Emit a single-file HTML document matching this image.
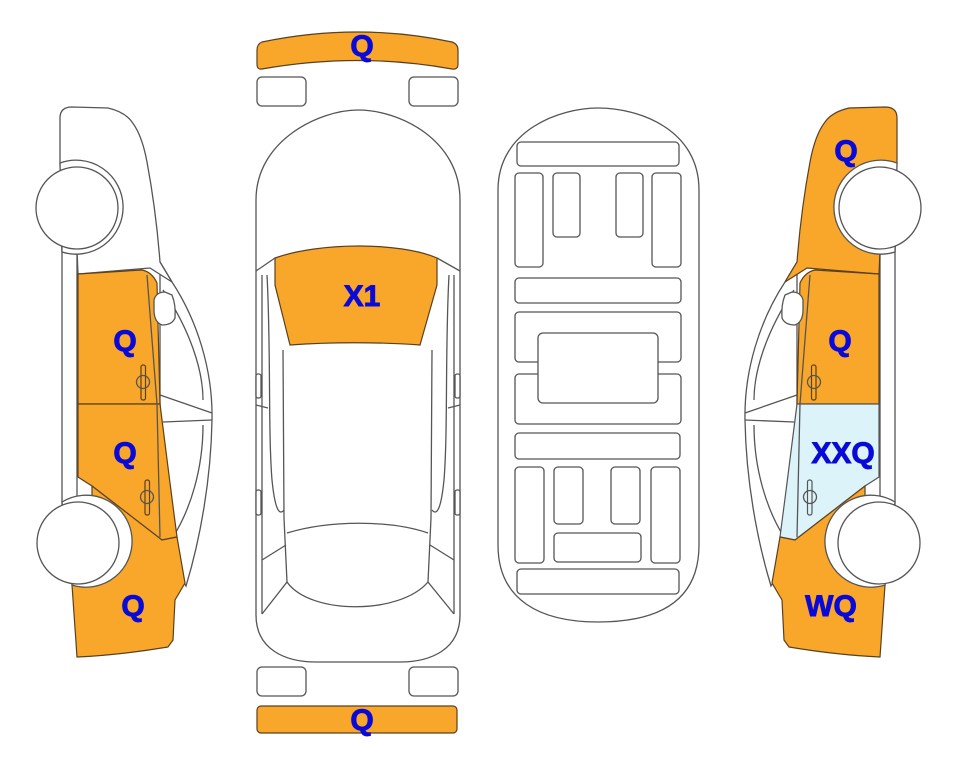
<!DOCTYPE html>
<html><head><meta charset="utf-8"><style>
html,body{margin:0;padding:0;background:#fff;}
svg{display:block;}
text{font-family:"Liberation Sans",Arial,sans-serif;font-weight:bold;font-size:30px;fill:#0a0ad8;stroke:#0a0ad8;stroke-width:0.9;text-anchor:middle;}
.s{stroke:#555;stroke-width:1.3;fill:none;}
.w{stroke:#555;stroke-width:1.3;fill:#fff;}
.o{stroke:#5a4020;stroke-width:1.2;fill:#F9A72B;}
.b{stroke:#555;stroke-width:1.2;fill:#DDF3FA;}
</style></head><body>
<svg width="963" height="768" viewBox="0 0 963 768" xmlns="http://www.w3.org/2000/svg">
<defs>
<g id="carbase">
  <path class="w" d="M160,262 L172,282 C197,320 213,370 212,420 C211,480 200,540 186,586 L160,540 L160,270 Z"/>
  <path class="s" d="M163,290 C190,330 203,370 203,400"/>
  <path class="s" d="M203,425 C203,470 190,510 173,537"/>
  <path class="s" d="M160,395 L212,413"/>
  <path class="s" d="M163,422 L212,420"/>
  <path class="w" d="M62,240 L77,240 L77,510 L62,510 Z"/>
</g>
</defs>

<!-- LEFT CAR -->
<g>
  <use href="#carbase"/>
  <path class="w" d="M60,163 L60,118 Q60,107 72,107 L108,108 Q125,112 132,122 Q142,135 147,162 Q156,210 160,262 L172,282 L150,268 L78,274 L77,250 L62,250 Z"/>
  <path class="o" d="M78,274 L142,270 Q152,272 157,283 L160,404 L78,404 Z"/>
  <path class="o" d="M78,404 L160,404 L170,483 L177,537 L162,540 L92,486 L78,477 Z"/>
  <path class="o" d="M92,486 L162,540 L177,537 L185,583 L175,600 L173,640 L168,647 Q120,655 77,657 L72,585 L72,500 L92,500 Z"/>
  <path class="s" d="M147,275 L157,404 L160,537"/>
  <path class="w" d="M154,300 Q156,292 165,292 L172,295 Q176,305 175,318 Q172,325 162,325 Q154,322 154,310 Z"/>
  <rect class="o" x="141" y="365" width="4.5" height="35" rx="2"/><circle class="s" cx="143" cy="382" r="6.5"/>
  <rect class="o" x="145" y="480" width="4.5" height="35" rx="2"/><circle class="s" cx="147" cy="497" r="6.5"/>
  <path class="w" d="M60,163 A47,47 0 1 1 62,252 Z"/>
  <circle class="w" cx="77" cy="208" r="41"/>
  <path class="w" d="M62,502 A46,46 0 1 1 72,585 Z"/>
  <circle class="w" cx="78" cy="543" r="41"/>
</g>
<text x="125" y="351">Q</text>
<text x="125" y="463">Q</text>
<text x="133" y="616">Q</text>

<!-- RIGHT CAR (mirrored) -->
<g transform="matrix(-1 0 0 1 957 0)">
  <use href="#carbase"/>
  <path class="o" d="M60,163 L60,118 Q60,107 72,107 L108,108 Q125,112 132,122 Q142,135 147,162 Q156,210 160,262 L172,282 L150,268 L78,274 L77,250 L62,250 Z"/>
  <path class="o" d="M78,274 L142,270 Q152,272 157,283 L160,404 L78,404 Z"/>
  <path class="b" d="M78,404 L160,404 L170,483 L177,537 L162,540 L92,486 L78,477 Z"/>
  <path class="o" d="M92,486 L162,540 L177,537 L185,583 L175,600 L173,640 L168,647 Q120,655 77,657 L72,585 L72,500 L92,500 Z"/>
  <path class="s" d="M147,275 L157,404 L160,537"/>
  <path class="w" d="M154,300 Q156,292 165,292 L172,295 Q176,305 175,318 Q172,325 162,325 Q154,322 154,310 Z"/>
  <rect class="o" x="141" y="365" width="4.5" height="35" rx="2"/><circle class="s" cx="143" cy="382" r="6.5"/>
  <rect class="b" x="145" y="480" width="4.5" height="35" rx="2"/><circle class="s" cx="147" cy="497" r="6.5"/>
  <path class="w" d="M60,163 A47,47 0 1 1 62,252 Z"/>
  <circle class="w" cx="77" cy="208" r="41"/>
  <path class="w" d="M62,502 A46,46 0 1 1 72,585 Z"/>
  <circle class="w" cx="78" cy="543" r="41"/>
</g>
<text x="846" y="161">Q</text>
<text x="840" y="351">Q</text>
<text x="843" y="463">XXQ</text>
<text x="831" y="616">WQ</text>

<!-- MIDDLE TOP VIEW -->
<path class="o" d="M262,42 Q358,22 452,42 Q458,44 458,50 L458,64 Q458,70 452,69 Q358,52 262,69 Q257,70 257,64 L257,50 Q257,44 262,42 Z"/>
<rect class="w" x="257" y="77" width="49" height="29" rx="5"/>
<rect class="w" x="409" y="77" width="49" height="29" rx="5"/>
<path class="w" d="M256,200 C256,140 320,110 358,110 C400,110 460,140 460,200 L460,615 C460,650 430,662 400,662 L316,662 C286,662 256,650 256,615 Z"/>
<path class="s" d="M256,271 L275,258 M460,271 L437,258"/>
<path class="s" d="M262,275 L262,614 M454,275 L454,614"/>
<path class="s" d="M267,275 C271,350 268,430 272,480 Q276,520 284,510"/>
<path class="s" d="M449,275 C445,350 448,430 444,480 Q440,520 432,510"/>
<path class="s" d="M283,350 L284,518 L287,582 L262,614"/>
<path class="s" d="M432,350 L431,518 L428,582 L454,614"/>
<path class="s" d="M256,405 L268,408 M460,405 L448,408 M262,560 L286,545 M454,560 L430,545"/>
<path class="s" d="M287,533 C330,520 390,520 428,533"/>
<path class="s" d="M287,582 C310,615 400,615 428,582"/>
<path class="o" d="M275,258 C320,242 400,242 437,258 L437,285 L420,345 C380,342 330,342 290,345 L275,285 Z"/>
<rect class="w" x="256" y="374" width="5" height="24" rx="2"/>
<rect class="w" x="256" y="490" width="5" height="25" rx="2"/>
<rect class="w" x="455" y="374" width="5" height="24" rx="2"/>
<rect class="w" x="455" y="490" width="5" height="25" rx="2"/>
<rect class="w" x="257" y="667" width="49" height="29" rx="5"/>
<rect class="w" x="409" y="667" width="49" height="29" rx="5"/>
<rect class="o" x="257" y="706" width="200" height="27" rx="4"/>
<text x="362" y="56">Q</text>
<text x="362" y="306">X1</text>
<text x="362" y="730">Q</text>

<!-- UNDERSIDE -->
<path class="w" d="M498,190 C498,130 560,108 598,108 C640,108 699,130 699,190 L699,545 C699,600 660,622 598,622 C540,622 498,600 498,545 Z"/>
<g class="w">
<rect x="517" y="142" width="162" height="24" rx="4"/>
<rect x="515" y="173" width="28" height="94" rx="4"/>
<rect x="553" y="173" width="27" height="64" rx="4"/>
<rect x="616" y="173" width="27" height="64" rx="4"/>
<rect x="652" y="173" width="29" height="94" rx="4"/>
<rect x="515" y="278" width="166" height="25" rx="4"/>
<rect x="515" y="312" width="166" height="50" rx="4"/>
<rect x="515" y="374" width="166" height="50" rx="4"/>
<rect x="538" y="333" width="120" height="70" rx="5"/>
<rect x="515" y="433" width="165" height="26" rx="4"/>
<rect x="515" y="467" width="29" height="96" rx="4"/>
<rect x="554" y="467" width="29" height="57" rx="4"/>
<rect x="611" y="467" width="29" height="57" rx="4"/>
<rect x="651" y="467" width="29" height="96" rx="4"/>
<rect x="554" y="533" width="87" height="29" rx="4"/>
<rect x="517" y="569" width="162" height="25" rx="4"/>
</g>
</svg>
</body></html>
